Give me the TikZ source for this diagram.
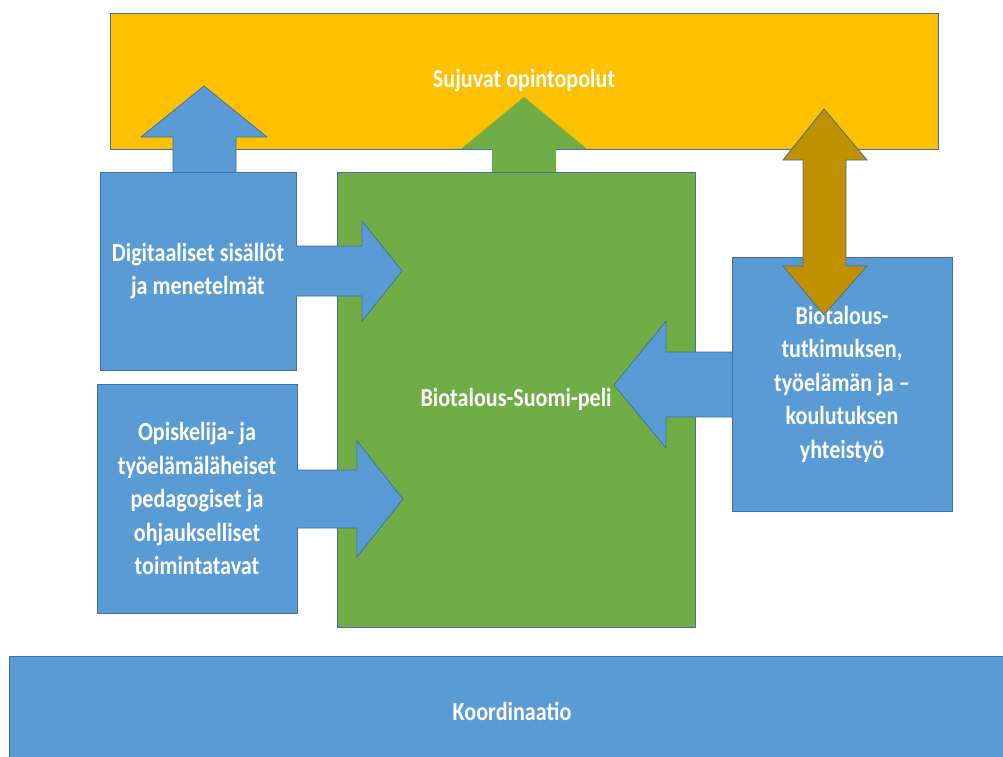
\documentclass[tikz,border=0pt]{standalone}
\usepackage{fontspec}
\setmainfont{Carlito}[FakeStretch=0.85]
\definecolor{bblue}{HTML}{5B9BD5}
\definecolor{edge}{HTML}{41719C}
\definecolor{byellow}{HTML}{FFC000}
\definecolor{bgreen}{HTML}{70AD47}
\definecolor{bbrown}{HTML}{BF9000}
\begin{document}
\begin{tikzpicture}[x=1pt,y=-1pt,
  box/.style={draw=edge, line width=0.8pt, fill=#1, inner sep=0pt, outer sep=0pt, anchor=north west,
    text=white, align=center, font=\fontsize{26}{33.5}\selectfont\bfseries},
  arrfill/.style={fill=#1},
  arredge/.style={draw=edge, line width=0.8pt, line join=miter}]
\clip (0,0) rectangle (1003,756);
\fill[white] (0,0) rectangle (1003,756);

% top box
\node[box=byellow, minimum width=828pt, minimum height=136pt] (top) at (110,13) {Sujuvat opintopolut};

% green up arrow (no border)
\fill[bgreen] (492,172) -- (492,149) -- (461,149) -- (524,97) -- (587,149) -- (556,149) -- (556,172) -- cycle;

% blue up arrow
\fill[bblue] (173,172) -- (173,137) -- (141,137) -- (204,86) -- (267,137) -- (236,137) -- (236,172) -- cycle;
\draw[arredge] (173,172) -- (173,137) -- (141,137) -- (204,86) -- (267,137) -- (236,137) -- (236,172);

% boxes
\node[box=bblue, minimum width=196pt, minimum height=198pt] (dig) at (100,172) {Digitaaliset sisällöt\\ja menetelmät};
\node[box=bgreen, minimum width=358pt, minimum height=455pt] (game) at (337,172) {Biotalous-Suomi-peli};
\node[box=bblue, minimum width=200pt, minimum height=229pt] (ped) at (97,384) {Opiskelija- ja\\työelämäläheiset\\pedagogiset ja\\ohjaukselliset\\toimintatavat};
\node[box=bblue, minimum width=220pt, minimum height=254pt] (coop) at (732,257) {Biotalous-\\tutkimuksen,\\työelämän ja –\\koulutuksen\\yhteistyö};

% right arrows into game
\fill[bblue] (296,246) -- (362,246) -- (362,221) -- (402,271) -- (362,321) -- (362,296) -- (296,296) -- cycle;
\draw[arredge] (296,246) -- (362,246) -- (362,221) -- (402,271) -- (362,321) -- (362,296) -- (296,296);
\fill[bblue] (297,470) -- (357,470) -- (357,441) -- (403,499) -- (357,557) -- (357,528) -- (297,528) -- cycle;
\draw[arredge] (297,470) -- (357,470) -- (357,441) -- (403,499) -- (357,557) -- (357,528) -- (297,528);

% left arrow from coop
\fill[bblue] (732,352) -- (666,352) -- (666,321) -- (614,385) -- (666,448) -- (666,417) -- (732,417) -- cycle;
\draw[arredge] (732,352) -- (666,352) -- (666,321) -- (614,385) -- (666,448) -- (666,417) -- (732,417);

% double arrow
\draw[arredge, fill=bbrown] (824,109) -- (867,160) -- (846,160) -- (846,266) -- (867,266) -- (824,315)
  -- (783,266) -- (803,266) -- (803,160) -- (783,160) -- cycle;

% bottom
\node[box=bblue, minimum width=1006pt, minimum height=110pt] (koord) at (9,656) {Koordinaatio};
\end{tikzpicture}
\end{document}
